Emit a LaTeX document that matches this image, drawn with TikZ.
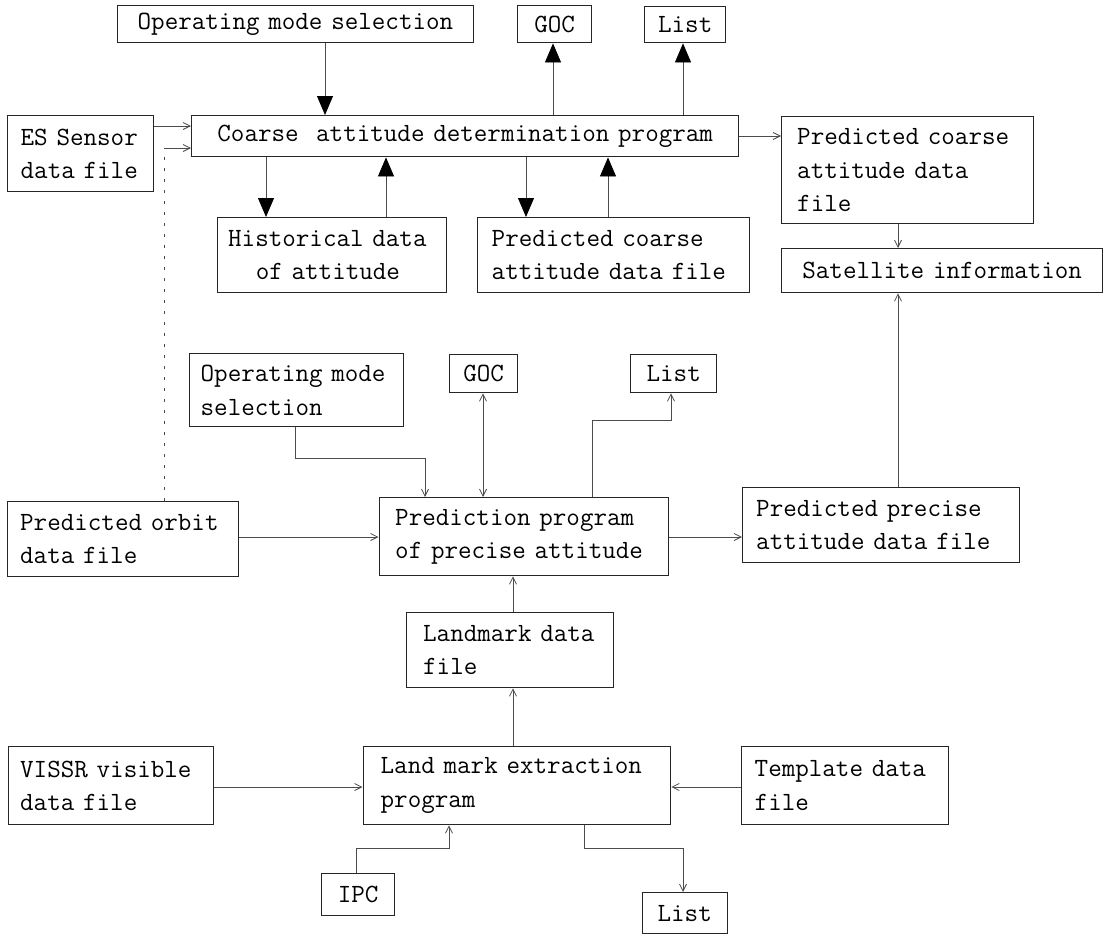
\documentclass[tikz,border=0pt]{standalone}
\usetikzlibrary{arrows.meta}
\newcommand\boxfont{\fontsize{26.3}{33.5}\selectfont\ttfamily}
\tikzset{
  box/.style={draw=black!85, line width=1.4pt, anchor=north west,
    inner ysep=0pt, font=\boxfont, text=black},
  lbox/.style={box, align=left},
  cbox/.style={box, align=center, inner xsep=5pt},
  conn/.style={draw=black!70, line width=0.8pt},
  big/.style={conn, -{Triangle[length=19pt,width=16pt,color=black,fill=black]}},
  small/.style={conn, -{Straight Barb[length=7pt,width=7pt]}},
  dbl/.style={conn, {Straight Barb[length=7pt,width=7pt]}-{Straight Barb[length=7pt,width=7pt]}},
  dots/.style={conn, dash pattern=on 3pt off 8pt}
}
\begin{document}
\begin{tikzpicture}[x=1pt,y=-1pt]
\useasboundingbox (0,0) rectangle (1108,935);

% ---- coarse attitude stage ----
\node[cbox, text width=345.5pt, minimum height=37pt] (omsT) at (117,5) {Operating mode selection};
\node[cbox, text width=64pt, minimum height=37pt] (gocT) at (517,5) {GOC};
\node[cbox, text width=71pt, minimum height=36pt] (listT) at (644,6) {List};
\node[lbox, inner xsep=13pt, text width=119.5pt, minimum height=76pt] (es) at (7,115)
  {\mbox{ES Sensor}\\\mbox{data file}};
\node[cbox, text width=537pt, minimum height=41pt] (coarse) at (191,115)
  {Coarse\ \ attitude determination program};
\node[lbox, inner xsep=10.5pt, text width=208pt, minimum height=75pt] (hist) at (217,217)
  {\mbox{Historical data}\\\mbox{\hspace*{27.6pt}of attitude}};
\node[lbox, inner xsep=14pt, text width=244pt, minimum height=75pt] (pcb) at (477,217)
  {\mbox{Predicted coarse}\\\mbox{attitude data file}};
\node[lbox, inner xsep=15.5pt, text width=221pt, minimum height=107pt] (pcr) at (781,116)
  {\mbox{Predicted coarse}\\\mbox{attitude data}\\\mbox{fi\kern0pt le}};
\node[cbox, text width=311pt, minimum height=44pt] (sat) at (781,248) {Satellite information};

% ---- precise attitude stage ----
\node[lbox, inner xsep=11pt, text width=191.5pt, minimum height=73pt] (omsM) at (189,353)
  {\mbox{Operating mode}\\\mbox{selection}};
\node[cbox, text width=58pt, minimum height=38pt] (gocM) at (449,354) {GOC};
\node[cbox, text width=76pt, minimum height=38pt] (listM) at (630,354) {List};
\node[lbox, inner xsep=12.5pt, text width=205.5pt, minimum height=75pt] (orbit) at (7,501)
  {\mbox{Predicted orbit}\\\mbox{data file}};
\node[lbox, inner xsep=16pt, text width=257pt, minimum height=78pt] (prog) at (378.5,497)
  {\mbox{Prediction program}\\\mbox{of precise attitude}};
\node[lbox, inner xsep=13.5pt, text width=250pt, minimum height=75pt] (precise) at (742,487)
  {\mbox{Predicted precise}\\\mbox{attitude data file}};

% ---- landmark stage ----
\node[lbox, inner xsep=16.5pt, text width=174pt, minimum height=75pt] (land) at (406,612)
  {\mbox{Landmark data}\\\mbox{file}};
\node[lbox, inner xsep=11.5pt, text width=182pt, minimum height=78pt] (vissr) at (8,746)
  {\mbox{VISSR visible}\\\mbox{data file}};
\node[lbox, inner xsep=17.5pt, text width=272.5pt, minimum height=78pt] (extr) at (362.5,746)
  {\mbox{Land mark extraction}\\\mbox{program}};
\node[lbox, inner xsep=13pt, text width=181pt, minimum height=78pt] (tmpl) at (741,746)
  {\mbox{Template data}\\\mbox{file}};
\node[cbox, text width=63pt, minimum height=42pt] (ipc) at (321,873) {IPC};
\node[cbox, text width=75pt, minimum height=41pt] (listB) at (641.5,892) {List};

% ---- rails for the connectors ----
\coordinate (rOms)  at (325,0);
\coordinate (rGoc)  at (553,0);
\coordinate (rList) at (683,0);
\coordinate (rHd)   at (266,0);
\coordinate (rHu)   at (386,0);
\coordinate (rPd)   at (526,0);
\coordinate (rPu)   at (608,0);
\coordinate (rEs)   at (0,126);
\coordinate (rPcr)  at (0,136);
\coordinate (rSat)  at (898,0);
\coordinate (kOrb)  at (164,148);
\coordinate (rOmsM) at (295,0);
\coordinate (kOmsM) at (425,458);
\coordinate (rGocM) at (483,0);
\coordinate (rLstM) at (592.5,0);
\coordinate (kLstM) at (671,420);
\coordinate (rMid)  at (0,537);
\coordinate (rLand) at (513,0);
\coordinate (rLow)  at (0,787);
\coordinate (rIpc)  at (356,0);
\coordinate (kIpc)  at (449,848);
\coordinate (rLstB) at (584,0);
\coordinate (kLstB) at (683,848);

% ---- coarse attitude connectors ----
\draw[big] (omsT.south -| rOms) -- (coarse.north -| rOms);
\draw[big] (coarse.north -| rGoc) -- (gocT.south -| rGoc);
\draw[big] (coarse.north -| rList) -- (listT.south -| rList);
\draw[big] (coarse.south -| rHd) -- (hist.north -| rHd);
\draw[big] (hist.north -| rHu) -- (coarse.south -| rHu);
\draw[big] (coarse.south -| rPd) -- (pcb.north -| rPd);
\draw[big] (pcb.north -| rPu) -- (coarse.south -| rPu);
\draw[small] (es.east |- rEs) -- (coarse.west |- rEs);
\draw[dots] (orbit.north -| kOrb) -- (kOrb);
\draw[small] (kOrb) -- (coarse.west |- kOrb);
\draw[small] (coarse.east |- rPcr) -- (pcr.west |- rPcr);
\draw[small] (pcr.south -| rSat) -- (sat.north -| rSat);

% ---- precise attitude connectors ----
\draw[small] (precise.north -| rSat) -- (sat.south -| rSat);
\draw[small] (omsM.south -| rOmsM) |- (kOmsM) -- (prog.north -| kOmsM);
\draw[dbl] (gocM.south -| rGocM) -- (prog.north -| rGocM);
\draw[small] (prog.north -| rLstM) |- (kLstM) -- (listM.south -| kLstM);
\draw[small] (orbit.east |- rMid) -- (prog.west |- rMid);
\draw[small] (prog.east |- rMid) -- (precise.west |- rMid);

% ---- landmark connectors ----
\draw[small] (land.north -| rLand) -- (prog.south -| rLand);
\draw[small] (extr.north -| rLand) -- (land.south -| rLand);
\draw[small] (vissr.east |- rLow) -- (extr.west |- rLow);
\draw[small] (tmpl.west |- rLow) -- (extr.east |- rLow);
\draw[small] (ipc.north -| rIpc) |- (kIpc) -- (extr.south -| kIpc);
\draw[small] (extr.south -| rLstB) |- (kLstB) -- (listB.north -| kLstB);
\end{tikzpicture}
\end{document}
